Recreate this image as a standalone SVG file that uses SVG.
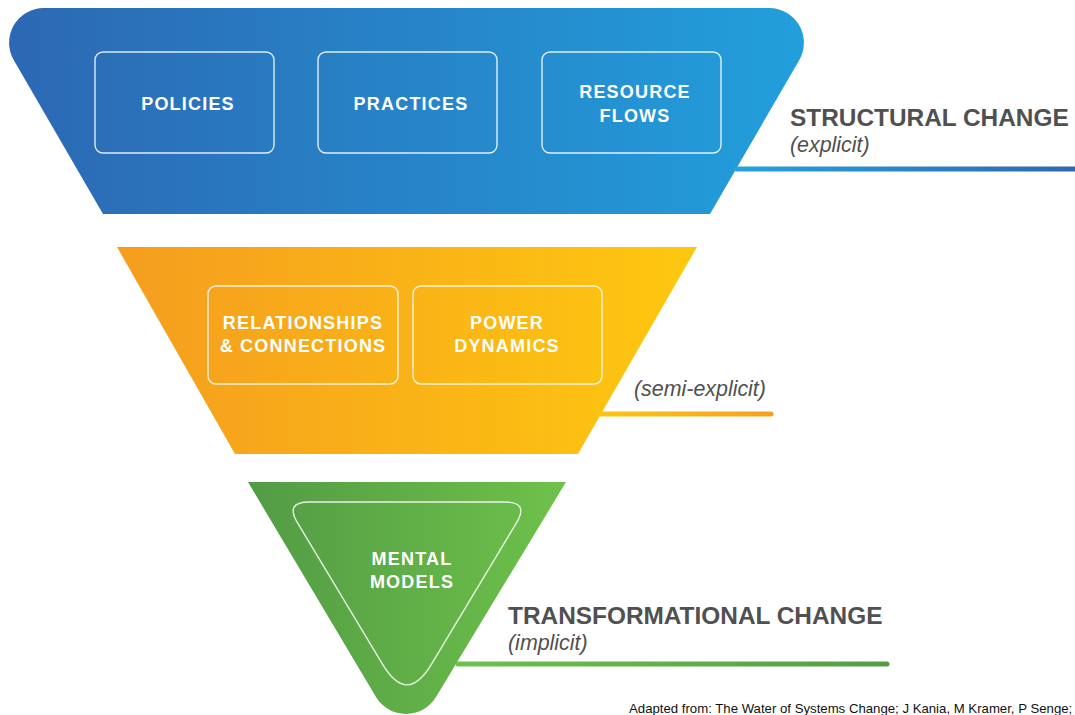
<svg xmlns="http://www.w3.org/2000/svg" width="1075" height="715" viewBox="0 0 1075 715">
  <defs>
    <linearGradient id="gBlue" x1="0" y1="0" x2="1" y2="0">
      <stop offset="0" stop-color="#2c68b3"/>
      <stop offset="1" stop-color="#229fdc"/>
    </linearGradient>
    <linearGradient id="gOrange" x1="0" y1="0" x2="1" y2="0">
      <stop offset="0" stop-color="#f59d1f"/>
      <stop offset="1" stop-color="#fec80f"/>
    </linearGradient>
    <linearGradient id="gGreen" x1="0" y1="0" x2="1" y2="0">
      <stop offset="0" stop-color="#529b45"/>
      <stop offset="1" stop-color="#6ec24a"/>
    </linearGradient>
    <linearGradient id="lBlue" gradientUnits="userSpaceOnUse" x1="735" y1="0" x2="1075" y2="0">
      <stop offset="0" stop-color="#26a2de"/>
      <stop offset="1" stop-color="#2e67b2"/>
    </linearGradient>
    <linearGradient id="lOrange" gradientUnits="userSpaceOnUse" x1="598" y1="0" x2="773" y2="0">
      <stop offset="0" stop-color="#fec412"/>
      <stop offset="1" stop-color="#f6a01f"/>
    </linearGradient>
    <linearGradient id="lGreen" gradientUnits="userSpaceOnUse" x1="457" y1="0" x2="889" y2="0">
      <stop offset="0" stop-color="#6dc14a"/>
      <stop offset="1" stop-color="#549d45"/>
    </linearGradient>
  </defs>
  <style>
    .box { fill: none; stroke: #ffffff; stroke-opacity: 0.85; stroke-width: 1.4; }
    .lbl { font-family: "Liberation Sans", Arial, sans-serif; font-weight: bold; font-size: 18px; fill: #ffffff; text-anchor: middle; letter-spacing: 1.2px; }
    .title { font-family: "Liberation Sans", Arial, sans-serif; font-weight: bold; font-size: 24.4px; fill: #505050; }
    .sub { font-family: "Liberation Sans", Arial, sans-serif; font-style: italic; font-size: 21.4px; fill: #505050; }
    .lead { fill: none; stroke-width: 5; stroke-linecap: round; }
    .note { font-family: "Liberation Sans", Arial, sans-serif; font-size: 13.2px; fill: #111111; }
  </style>

  <!-- top tier: structural change -->
  <g id="tier-structural">
    <path d="M43.7,8 L769.3,8 A34.7,34.7 0 0 1 799.3,60 L710,214 L103,214 L13.7,60 A34.7,34.7 0 0 1 43.7,8 Z" fill="url(#gBlue)"/>
  </g>
  <g id="node-policies">
    <rect class="box" x="95" y="52" width="179" height="101" rx="8"/>
    <text class="lbl" x="188" y="110">POLICIES</text>
  </g>
  <g id="node-practices">
    <rect class="box" x="318" y="52" width="179" height="101" rx="8"/>
    <text class="lbl" x="411" y="110">PRACTICES</text>
  </g>
  <g id="node-resource-flows">
    <rect class="box" x="542" y="52" width="179" height="101" rx="8"/>
    <text class="lbl" x="635" y="98">RESOURCE</text>
    <text class="lbl" x="635" y="122">FLOWS</text>
  </g>

  <!-- middle tier: semi-explicit -->
  <g id="tier-semi">
    <path d="M117,247 L697,247 L578,454 L235,454 Z" fill="url(#gOrange)"/>
  </g>
  <g id="node-relationships">
    <rect class="box" x="208" y="286" width="190" height="98" rx="8"/>
    <text class="lbl" x="303" y="329">RELATIONSHIPS</text>
    <text class="lbl" x="303" y="352">&amp; CONNECTIONS</text>
  </g>
  <g id="node-power">
    <rect class="box" x="413" y="286" width="189" height="98" rx="8"/>
    <text class="lbl" x="507" y="329">POWER</text>
    <text class="lbl" x="507" y="352">DYNAMICS</text>
  </g>

  <!-- bottom tier: transformational change -->
  <g id="tier-transformational">
    <path d="M248,482 L566,482 L436,697 A35,35 0 0 1 376,697 Z" fill="url(#gGreen)"/>
  </g>
  <g id="node-mental-models">
    <path class="box" d="M309,502 L505,502 Q529,502 516.6,522.6 L431.2,664.7 Q407,705 382.8,664.7 L297.4,522.6 Q285,502 309,502 Z"/>
    <text class="lbl" x="412" y="565">MENTAL</text>
    <text class="lbl" x="412" y="588">MODELS</text>
  </g>

  <!-- leader lines from each tier to its caption -->
  <g id="connectors">
    <line class="lead" x1="736" y1="169" x2="1080" y2="169" stroke="url(#lBlue)" stroke-width="4" stroke-linecap="butt"/>
    <line x1="600" y1="414" x2="771" y2="414" class="lead" stroke="url(#lOrange)"/>
    <line x1="458" y1="664" x2="887" y2="664" class="lead" stroke="url(#lGreen)"/>
  </g>

  <g id="caption-structural">
    <text class="title" x="790" y="126">STRUCTURAL CHANGE</text>
    <text class="sub" x="790" y="152">(explicit)</text>
  </g>
  <g id="caption-semi">
    <text class="sub" x="634" y="396">(semi-explicit)</text>
  </g>
  <g id="caption-transformational">
    <text class="title" x="508" y="624">TRANSFORMATIONAL CHANGE</text>
    <text class="sub" x="508" y="650">(implicit)</text>
  </g>

  <text class="note" x="629" y="713">Adapted from: The Water of Systems Change; J Kania, M Kramer, P Senge;</text>
</svg>
